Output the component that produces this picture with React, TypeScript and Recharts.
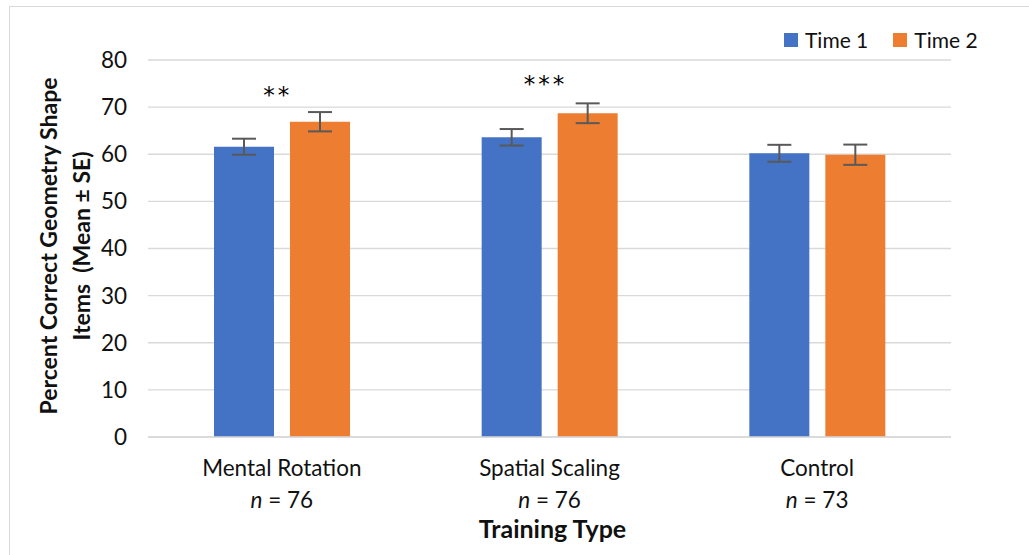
import React from "react";
import {
  ComposedChart,
  Bar,
  Scatter,
  XAxis,
  YAxis,
  CartesianGrid,
  ErrorBar,
  Legend,
  Label,
} from "recharts";

const categories = ["Mental Rotation", "Spatial Scaling", "Control"];
const sampleSizes = ["76", "76", "73"];
const time1 = [61.6, 63.6, 60.2];
const time2 = [66.9, 68.7, 59.9];
const time1SE = [1.7, 1.75, 1.8];
const time2SE = [2.05, 2.1, 2.15];
const sigLabels = ["**", "***", ""];
const sigLevels: (number | null)[] = [73.7, 76.0, null];
const yTicks = [0, 10, 20, 30, 40, 50, 60, 70, 80];
const seriesNames = ["Time 1", "Time 2"];

const BLUE = "#4472C4";
const ORANGE = "#ED7D31";
const FONT = "Lato, 'Open Sans', sans-serif";
const TEXT = "#111";

const data = categories.map((c, i) => ({
  name: c,
  n: sampleSizes[i],
  t1: time1[i],
  t2: time2[i],
  t1se: time1SE[i],
  t2se: time2SE[i],
  sig: sigLevels[i],
  sigLabel: sigLabels[i],
}));

const CategoryTick = (props: any) => {
  const { x, y, payload, index } = props;
  const n = data[index]?.n ?? "";
  return (
    <g>
      <text x={x} y={y + 39} textAnchor="middle" fontFamily={FONT} fontSize={22.5} fill={TEXT}>
        {payload.value}
      </text>
      <text x={x} y={y + 71} textAnchor="middle" fontFamily={FONT} fontSize={22.5} fill={TEXT}>
        <tspan fontStyle="italic">n</tspan>
        <tspan> = {n}</tspan>
      </text>
    </g>
  );
};

const SigShape = (props: any) => {
  const { cx, cy, payload } = props;
  if (!payload || !payload.sigLabel || cy == null) return <g />;
  return (
    <text
      x={cx - 4}
      y={cy + 13}
      textAnchor="middle"
      fontFamily="'DejaVu Sans', sans-serif"
      fontSize={23}
      letterSpacing={3}
      fill="#000"
    >
      {payload.sigLabel}
    </text>
  );
};

const LegendContent = (props: any) => {
  const { payload } = props;
  const items = (payload || []).filter((p: any) => seriesNames.includes(p.value));
  return (
    <div
      style={{
        display: "flex",
        alignItems: "center",
        fontFamily: FONT,
        fontSize: 21,
        color: TEXT,
        whiteSpace: "nowrap",
      }}
    >
      {items.map((p: any, i: number) => (
        <div key={i} style={{ display: "flex", alignItems: "center", marginRight: 25 }}>
          <span style={{ display: "inline-block", width: 14, height: 14, background: p.color, marginRight: 7 }} />
          <span style={{ lineHeight: "24px" }}>{p.value}</span>
        </div>
      ))}
    </div>
  );
};

const YTitle = (props: any) => {
  const cx = 57;
  const cy = 246;
  return (
    <text
      x={cx}
      y={cy}
      transform={`rotate(-90, ${cx}, ${cy})`}
      textAnchor="middle"
      fontFamily={FONT}
      fontWeight="bold"
      fontSize={23}
      fill={TEXT}
      style={{ whiteSpace: "pre" }}
    >
      <tspan x={cx} dy={0}>Percent Correct Geometry Shape</tspan>
      <tspan x={cx} dy={33}>Items  (Mean ± SE)</tspan>
    </text>
  );
};

const XTitle = (props: any) => {
  const vb = props.viewBox || {};
  return (
    <text
      x={vb.x + vb.width / 2 + 3}
      y={538}
      textAnchor="middle"
      fontFamily={FONT}
      fontWeight="bold"
      fontSize={25}
      fill={TEXT}
    >
      Training Type
    </text>
  );
};

export default function App() {
  return (
    <div
      style={{
        position: "absolute",
        left: 0,
        top: 0,
        width: 1029,
        height: 555,
        overflow: "hidden",
        background: "#fff",
      }}
    >
      <div
        style={{
          position: "absolute",
          left: 9,
          top: 6,
          width: 1100,
          height: 700,
          border: "1px solid #d9d9d9",
        }}
      />
      <div style={{ position: "absolute", left: 0, top: 0 }}>
        <ComposedChart
          width={1029}
          height={555}
          data={data}
          margin={{ top: 60, right: 78, left: 88, bottom: 38 }}
          barSize={60}
          barGap={16}
        >
          <CartesianGrid vertical={false} stroke="#d9d9d9" strokeWidth={1.3} />
          <XAxis
            dataKey="name"
            height={80}
            tickLine={false}
            tickSize={0}
            tickMargin={0}
            axisLine={{ stroke: "#d9d9d9", strokeWidth: 1.3 }}
            tick={<CategoryTick />}
            interval={0}
          >
            <Label content={<XTitle />} />
          </XAxis>
          <YAxis
            width={60}
            domain={[0, 80]}
            ticks={yTicks}
            axisLine={false}
            tickLine={false}
            tickSize={0}
            tickMargin={21}
            tick={{ fontFamily: FONT, fontSize: 22.5, fill: TEXT }}
          >
            <Label content={<YTitle />} />
          </YAxis>
          <Legend
            layout="horizontal"
            verticalAlign="middle"
            align="center"
            content={<LegendContent />}
            wrapperStyle={{ position: "absolute", left: 784, top: 28, width: 240, height: 26 }}
          />
          <Bar dataKey="t1" name={seriesNames[0]} fill={BLUE} isAnimationActive={false}>
            <ErrorBar dataKey="t1se" width={12} strokeWidth={2} stroke="#595959" direction="y" />
          </Bar>
          <Bar dataKey="t2" name={seriesNames[1]} fill={ORANGE} isAnimationActive={false}>
            <ErrorBar dataKey="t2se" width={12} strokeWidth={2} stroke="#595959" direction="y" />
          </Bar>
          <Scatter dataKey="sig" shape={<SigShape />} isAnimationActive={false} legendType="none" />
        </ComposedChart>
      </div>
    </div>
  );
}
